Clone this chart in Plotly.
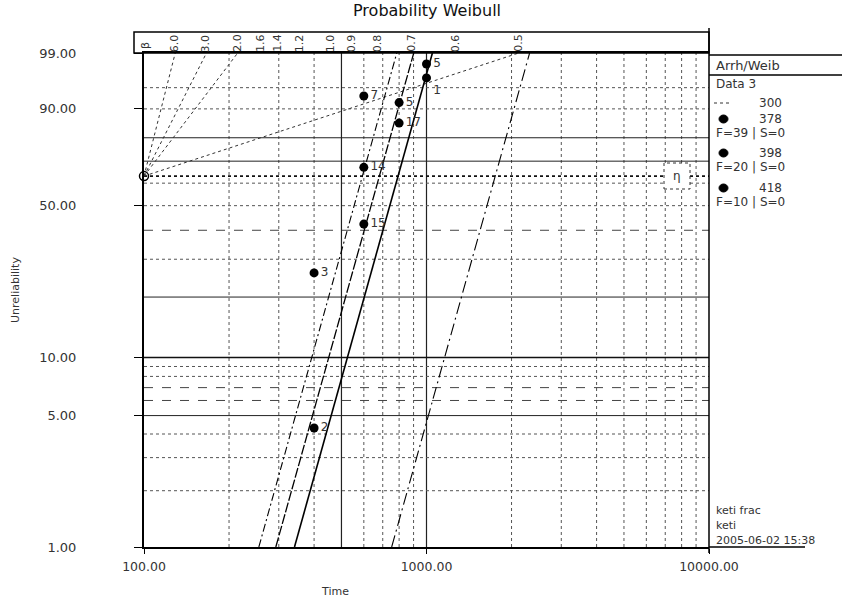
import numpy as np
import plotly.graph_objects as go

# ---------------- data ----------------
stress_levels = [300, 378, 398, 418]
line_eta = [1751, 793, 681, 593]          # Weibull scale (Time) at each stress
common_beta = 5.45                         # common Weibull shape

pts_378_time = [400, 600, 800, 1000]
pts_378_unrel = [4.3, 42.4, 85.5, 98.2]
pts_378_count = ["2", "15", "17", "5"]

pts_398_time = [600, 800, 1000]
pts_398_unrel = [67.2, 91.7, 96.6]
pts_398_count = ["14", "5", "1"]

pts_418_time = [400, 600]
pts_418_unrel = [26.0, 93.3]
pts_418_count = ["3", "7"]

beta_scale_vals = [6.0, 3.0, 2.0, 1.6, 1.4, 1.2, 1.0, 0.9, 0.8, 0.7, 0.6, 0.5]
beta_scale_text = ["6.0", "3.0", "2.0", "1.6", "1.4", "1.2", "1.0", "0.9", "0.8", "0.7", "0.6", "0.5"]
beta_guides_drawn = [6.0, 3.0, 2.0, 0.5]

x_tick_vals = [100, 1000, 10000]
x_tick_text = ["100.00", "1000.00", "10000.00"]
y_tick_vals = [1, 5, 10, 50, 90, 99]
y_tick_text = ["1.00", "5.00", "10.00", "50.00", "90.00", "99.00"]

x_grid_major = [500, 1000]
x_grid_minor = [200, 300, 400, 600, 700, 800, 900, 2000, 3000, 4000, 5000, 6000, 7000, 8000, 9000]
y_grid_solid = [5, 20, 70, 80]
y_grid_thick = [10]
y_grid_dashed = [6, 7, 40]
y_grid_dotted = [2, 3, 4, 8, 9, 30, 50, 60, 90, 95]

legend_labels = ["300", "378", "398", "418"]
legend_fs = ["", "F=39 | S=0", "F=20 | S=0", "F=10 | S=0"]
footer_lines = ["keti frac", "keti", "2005-06-02 15:38"]

# ---------------- helpers ----------------
def wy(p):
    """Weibull probability-paper ordinate for unreliability p (%)."""
    p = np.asarray(p, dtype=float) / 100.0
    return np.log(-np.log(1.0 - p))

Y_MIN = float(wy(1))
Y_MAX = float(wy(99))

W, H = 842, 605
L, R, T, B = 144, 709, 53, 547
def px_x(px): return (px - L) / (R - L)
def px_y(py): return (B - py) / (B - T)

TXT = "#333"
FONT = "DejaVu Sans"

fig = go.Figure()

def add_vgrid(vals, color, width, dash):
    xs, ys = [], []
    for v in vals:
        xs += [v, v, None]
        ys += [Y_MIN, Y_MAX, None]
    fig.add_trace(go.Scatter(x=xs, y=ys, mode="lines", hoverinfo="skip",
                             line=dict(color=color, width=width, dash=dash), showlegend=False))

def add_hgrid(vals, color, width, dash):
    xs, ys = [], []
    for v in vals:
        yv = float(wy(v))
        xs += [100, 10000, None]
        ys += [yv, yv, None]
    fig.add_trace(go.Scatter(x=xs, y=ys, mode="lines", hoverinfo="skip",
                             line=dict(color=color, width=width, dash=dash), showlegend=False))

add_vgrid(x_grid_minor, "#555", 1, "dot")
add_vgrid(x_grid_major, "#222", 1.2, "solid")
add_hgrid(y_grid_dotted, "#555", 1, "dot")
add_hgrid(y_grid_dashed, "#444", 1, "dash")
add_hgrid(y_grid_solid, "#222", 1, "solid")
add_hgrid(y_grid_thick, "#111", 1.6, "solid")

# eta line (63.2 %)
fig.add_trace(go.Scatter(x=[100, 10000], y=[0, 0], mode="lines", hoverinfo="skip",
                         line=dict(color="#111", width=1.6, dash="dot"), showlegend=False))

# beta guide lines from the pivot (100, 63.2%)
for b in beta_guides_drawn:
    fig.add_trace(go.Scatter(x=[100, 100 * np.exp(Y_MAX / b)], y=[0, Y_MAX], mode="lines",
                             hoverinfo="skip", line=dict(color="#333", width=1, dash="dot"),
                             showlegend=False))

# Weibull lines per stress
line_style = {300: dict(dash="12px,4px,2px,4px", width=1.1),
              378: dict(dash="solid", width=1.6),
              398: dict(dash="10px,2px", width=1.3),
              418: dict(dash="8px,3px,2px,3px", width=1.1)}
for s, eta in zip(stress_levels, line_eta):
    ps = [1, 99]
    ts = [eta * (-np.log(1 - p / 100.0)) ** (1.0 / common_beta) for p in ps]
    fig.add_trace(go.Scatter(x=ts, y=wy(ps), mode="lines", hoverinfo="skip",
                             line=dict(color="black", **line_style[s]), showlegend=False))

# data points
label_pos = {"378": ["middle right", "middle right", "middle right", "middle right"],
             "398": ["middle right", "middle right", "bottom right"],
             "418": ["middle right", "middle right"]}
for key, tt, uu, cc in [("378", pts_378_time, pts_378_unrel, pts_378_count),
                        ("398", pts_398_time, pts_398_unrel, pts_398_count),
                        ("418", pts_418_time, pts_418_unrel, pts_418_count)]:
    fig.add_trace(go.Scatter(x=tt, y=wy(uu), mode="markers+text", text=cc,
                             textposition=label_pos[key], cliponaxis=False,
                             textfont=dict(family=FONT, size=12, color=TXT),
                             marker=dict(color="black", size=9), showlegend=False))

# pivot open circle
fig.add_trace(go.Scatter(x=[100], y=[0], mode="markers", cliponaxis=False, hoverinfo="skip",
                         marker=dict(symbol="circle-open", color="black", size=9, line=dict(width=1.5)),
                         showlegend=False))

annotations = []
def ann(x, y, text, size=12, xref="paper", yref="paper", xanchor="center", angle=0, color=TXT):
    annotations.append(dict(x=x, y=y, xref=xref, yref=yref, text=text, textangle=angle,
                            xanchor=xanchor, yanchor="middle", showarrow=False,
                            font=dict(family=FONT, size=size, color=color)))

# beta scale labels
ann(px_x(146), px_y(46), "β", size=11, angle=-90)
for bv, bt in zip(beta_scale_vals, beta_scale_text):
    xlog = 2 + Y_MAX / (bv * np.log(10))
    ann(xlog, px_y(43), bt, size=11, xref="x", angle=-90)

# title & axis titles
ann(px_x(427), px_y(11), "Probability Weibull", size=16, color="#111")
ann(px_x(15), px_y(290), "Unreliability", size=11, angle=-90)
ann(px_x(335), px_y(591), "Time", size=11)

# legend panel
LF = 12
ann(px_x(714), px_y(65), "Arrh/Weib", size=13, xanchor="left")
ann(px_x(714), px_y(84), "Data 3", size=LF, xanchor="left")
leg_y = [103, 119, 153, 188]
for lab, fs, ly in zip(legend_labels, legend_fs, leg_y):
    ann(px_x(757), px_y(ly), lab, size=LF, xanchor="left")
    if fs:
        ann(px_x(714), px_y(ly + 14), fs, size=LF, xanchor="left")
for i, fl in enumerate(footer_lines):
    ann(px_x(714), px_y(510 + 15 * i), fl, size=11, xanchor="left")
# eta box label
ann(px_x(677), 0, "η", size=12, yref="y")

shapes = []
shapes.append(dict(type="rect", xref="paper", yref="paper", x0=px_x(134), x1=1.0, y0=1.0, y1=px_y(32),
                   line=dict(color="black", width=1.5)))
shapes.append(dict(type="line", xref="paper", yref="paper", x0=1.0, x1=1.0, y0=px_y(553), y1=px_y(28),
                   line=dict(color="black", width=1.5)))
for ly in [55, 75]:
    shapes.append(dict(type="line", xref="paper", yref="paper", x0=1.0, x1=px_x(842), y0=px_y(ly), y1=px_y(ly),
                       line=dict(color="black", width=1.5)))
shapes.append(dict(type="line", xref="paper", yref="paper", x0=1.0, x1=px_x(805), y0=0, y1=0,
                   line=dict(color="black", width=1.5)))
shapes.append(dict(type="line", xref="paper", yref="paper", x0=px_x(714), x1=px_x(732), y0=px_y(103), y1=px_y(103),
                   line=dict(color="#333", width=1, dash="dot")))
for ly in leg_y[1:]:
    shapes.append(dict(type="circle", xref="paper", yref="paper", x0=px_x(719), x1=px_x(728),
                       y0=px_y(ly + 4), y1=px_y(ly - 4), fillcolor="black", line=dict(color="black", width=1)))
shapes.append(dict(type="rect", xref="paper", yref="paper", x0=px_x(664), x1=px_x(690), y0=px_y(189), y1=px_y(163),
                   fillcolor="white", line=dict(color="#333", width=1, dash="dot"), layer="above"))

fig.update_layout(
    width=W, height=H,
    margin=dict(l=L, r=W - R, t=T, b=H - B, pad=0),
    paper_bgcolor="white", plot_bgcolor="white",
    showlegend=False,
    font=dict(family=FONT, color=TXT),
    annotations=annotations, shapes=shapes,
    xaxis=dict(type="log", range=[2, 4], tickvals=x_tick_vals, ticktext=x_tick_text,
               showgrid=False, zeroline=False, showline=True, linecolor="black", linewidth=2,
               mirror=True, ticks="outside", ticklen=5, tickcolor="black", ticklabelstandoff=2,
               tickfont=dict(family=FONT, size=12.5, color=TXT)),
    yaxis=dict(range=[Y_MIN, Y_MAX], tickvals=[float(v) for v in wy(y_tick_vals)], ticktext=y_tick_text,
               showgrid=False, zeroline=False, showline=True, linecolor="black", linewidth=2,
               ticks="outside", ticklen=8, tickcolor="black", ticklabelstandoff=55,
               tickfont=dict(family=FONT, size=13, color=TXT)),
)

fig.write_html("out.html", config={"displayModeBar": False},
               post_script="document.body.style.margin='0px';document.body.style.overflow='hidden';")
